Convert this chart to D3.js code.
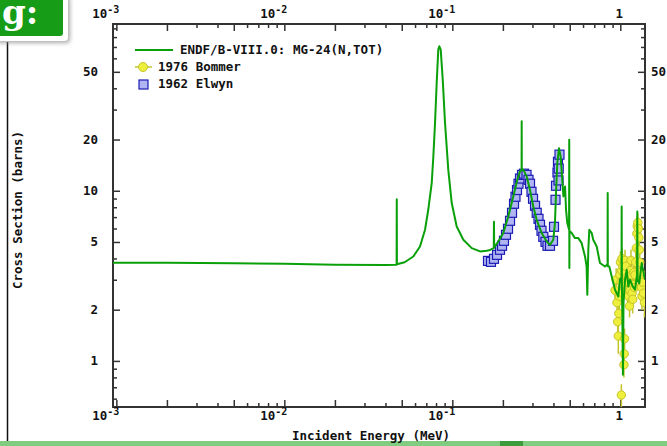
<html>
<meta charset="utf-8" />
<head>
<title>MG-24(N,TOT)</title>
<script src="https://cdn.jsdelivr.net/npm/d3@7/dist/d3.min.js"></script>
<style>
body { margin: 0; background: #fff; }
svg { display: block; }
text { font-family: 'DejaVu Sans Mono', monospace; font-weight: bold; font-size: 12.5px; fill: #111; }
</style>
</head>
<body>
<svg width="667" height="446"></svg>
<script>
// ENDF/B-VIII.0 evaluated curve (MeV, barns)
const endfE = [0.00095, 0.002, 0.005, 0.01, 0.02, 0.04, 0.0466, 0.0467, 0.0468, 0.052,
	0.0586, 0.0642, 0.0688, 0.0719, 0.0754, 0.0771, 0.0789, 0.0807, 0.0825, 0.0837,
	0.0853, 0.0877, 0.0905, 0.0946, 0.0992, 0.1062, 0.1163, 0.1305, 0.1462, 0.1603,
	0.1677, 0.1765, 0.1770, 0.1775, 0.1878, 0.2012, 0.2154, 0.2307, 0.2438, 0.2529,
	0.2585, 0.2588, 0.2592, 0.2647, 0.2773, 0.2901, 0.3034, 0.318, 0.3404, 0.3648,
	0.3815, 0.399, 0.4083, 0.4143, 0.4217, 0.4315, 0.4416, 0.4498, 0.4584, 0.469,
	0.4753, 0.4836, 0.4955, 0.4966, 0.4975, 0.4985, 0.5137, 0.537, 0.5623, 0.5888,
	0.6166, 0.63, 0.6362, 0.645, 0.654, 0.6758, 0.690, 0.7236, 0.7568, 0.811,
	0.840, 0.8414, 0.843, 0.86, 0.889, 0.930, 0.973, 0.995, 1.017, 1.019,
	1.022, 1.028, 1.037, 1.045, 1.067, 1.092, 1.116, 1.142, 1.185, 1.223,
	1.258, 1.262, 1.268, 1.297, 1.341, 1.403];
const endfXS = [3.78, 3.77, 3.75, 3.72, 3.68, 3.66, 3.68, 8.9, 3.7, 3.8,
	4.11, 4.70, 5.90, 7.73, 11.1, 15.9, 25.0, 43.0, 67.5, 70.6,
	67.5, 45.0, 25.0, 13.3, 8.47, 6.17, 5.15, 4.60, 4.40, 4.44,
	4.49, 4.60, 6.57, 4.65, 5.03, 5.64, 7.06, 9.26, 11.6, 13.0,
	13.2, 25.6, 13.3, 13.3, 12.1, 10.1, 8.08, 6.75, 5.64, 5.03,
	4.81, 5.15, 6.46, 9.69, 14.6, 17.8, 15.9, 12.1, 9.26, 10.6,
	7.73, 6.46, 5.9, 19.95, 3.52, 5.8, 5.64, 5.27, 5.27, 4.92,
	4.11, 3.6, 2.45, 4.5, 5.90, 5.64, 5.15, 4.70, 3.76, 3.59,
	3.7, 9.69, 3.6, 3.59, 3.13, 2.62, 2.39, 3.0, 3.1, 8.08,
	2.8, 1.92, 0.83, 2.2, 3.0, 3.43, 2.74, 3.0, 2.74, 2.62,
	3.2, 7.55, 3.0, 2.86, 3.76, 3.0];

// 1976 Bommer
const bommerE = [0.930, 0.945, 0.956, 0.965, 0.973, 0.980, 0.987, 0.995, 1.002, 1.010,
	1.015, 1.019, 1.024, 1.030, 1.037, 1.044, 1.051, 1.055, 1.060, 1.067,
	1.075, 1.082, 1.090, 1.097, 1.105, 1.113, 1.120, 1.128, 1.135, 1.142,
	1.150, 1.158, 1.167, 1.175, 1.185, 1.193, 1.205, 1.215, 1.223, 1.235,
	1.245, 1.255, 1.262, 1.272, 1.281, 1.290, 1.297, 1.305, 1.316, 1.326,
	1.336, 1.345, 1.360, 1.375, 1.392];
const bommerXS = [2.6, 3.0, 2.2, 1.7, 1.4, 1.9, 2.4, 3.2, 3.8, 2.9,
	0.63, 3.4, 4.0, 2.5, 3.6, 3.0, 0.95, 1.1, 1.35, 3.9,
	3.3, 3.6, 2.8, 3.1, 2.6, 3.0, 2.4, 2.9, 2.1, 2.6,
	3.4, 3.9, 3.2, 2.5, 2.3, 2.8, 3.3, 2.7, 3.2, 3.8,
	4.6, 5.6, 6.2, 6.5, 6.0, 5.3, 4.5, 3.8, 3.3, 3.0,
	2.7, 2.4, 2.9, 2.5, 2.2];
const bommerErr = [0.4, 0.5, 0.4, 0.3, 0.3, 0.3, 0.4, 0.5, 0.6, 0.5,
	0.1, 0.5, 0.6, 0.4, 0.5, 0.5, 0.15, 0.2, 0.2, 0.6,
	0.5, 0.5, 0.4, 0.5, 0.4, 0.5, 0.4, 0.4, 0.3, 0.4,
	0.5, 0.6, 0.5, 0.4, 0.4, 0.4, 0.5, 0.4, 0.5, 0.6,
	0.7, 0.8, 0.9, 0.9, 0.9, 0.8, 0.7, 0.6, 0.5, 0.5,
	0.4, 0.4, 0.5, 0.4, 0.4];

// 1962 Elwyn
const elwynE = [0.1631, 0.1699, 0.1770, 0.1846, 0.1923, 0.1977, 0.2030, 0.2087, 0.2146, 0.2206,
	0.2267, 0.2330, 0.2377, 0.2427, 0.2477, 0.2529, 0.2600, 0.2672, 0.2765, 0.2842,
	0.2901, 0.2961, 0.3023, 0.3107, 0.3180, 0.3259, 0.3327, 0.3396, 0.3481, 0.3587,
	0.3687, 0.3815, 0.3976, 0.4031, 0.4115, 0.4143, 0.4227, 0.4256, 0.4290, 0.4300, 0.4345];
const elwynXS = [3.87, 3.82, 3.98, 4.20, 4.50, 4.75, 5.08, 5.51, 5.98, 6.66,
	7.42, 8.39, 9.22, 10.1, 11.0, 11.8, 12.4, 12.6, 12.4, 11.6,
	11.0, 9.86, 8.97, 8.16, 7.42, 6.84, 6.31, 5.82, 5.36, 5.01,
	4.75, 4.75, 5.08, 6.14, 8.85, 10.7, 12.8, 14.8, 11.5, 13.5, 16.3];

// axis ticks and labels
const xLabelVals = [0.001, 0.01, 0.1, 1];
const xLabelBase = ['10', '10', '10', '1'];
const xLabelExp = ['-3', '-2', '-1', ''];
const yLabelVals = [1, 2, 5, 10, 20, 50];
const yLabels = ['1', '2', '5', '10', '20', '50'];

const legendNames = ['ENDF/B-VIII.0: MG-24(N,TOT)', '1976 Bommer', '1962 Elwyn'];

const svg = d3.select('svg');
const L = 113, R = 645, T = 24, B = 407;

const x = d3.scaleLog().domain([0.000955, 1.403]).range([L, R]);
const y = d3.scaleLog().domain([0.536, 95.5]).range([B, T]);

// --- page decorations (badge, side rule, bottom band)
const defs = svg.append('defs');
defs.append('filter').attr('id', 'shadow').attr('x', '-20%').attr('y', '-20%').attr('width', '150%').attr('height', '150%')
	.append('feDropShadow').attr('dx', 2).attr('dy', 2).attr('stdDeviation', 2).attr('flood-color', '#888').attr('flood-opacity', 0.7);
defs.append('clipPath').attr('id', 'plot').append('rect')
	.attr('x', L).attr('y', T).attr('width', R - L).attr('height', B - T);

svg.append('line').attr('x1', 7.5).attr('x2', 7.5).attr('y1', 42).attr('y2', 442)
	.style('stroke', '#111').style('stroke-width', 1.5);
svg.append('rect').attr('x', 0).attr('y', 441).attr('width', 667).attr('height', 5).style('fill', '#80cc80');
svg.append('rect').attr('x', 500).attr('y', 441).attr('width', 23).attr('height', 5).style('fill', '#3c9c3c');

svg.append('rect').attr('x', -6).attr('y', -6).attr('width', 74).attr('height', 47).attr('rx', 4)
	.style('fill', '#fff').attr('filter', 'url(#shadow)');
svg.append('rect').attr('x', -6).attr('y', -6).attr('width', 69).attr('height', 42).attr('rx', 3).style('fill', '#169c16');
svg.append('text').attr('x', 2).attr('y', 24)
	.style('font-family', "'DejaVu Serif', serif").style('font-size', '34px').style('fill', '#fff')
	.text('g:');

// --- ticks
function tickSet(lo, hi, pick) {
	const out = [];
	for (let p = Math.floor(Math.log10(lo)); p <= Math.ceil(Math.log10(hi)); p++) {
		for (let k = 1; k <= 9; k++) {
			const v = k * Math.pow(10, p);
			if (v >= lo && v <= hi && pick(k)) out.push(+v.toPrecision(3));
		}
	}
	return out;
}
const isMajor = (k) => k === 1 || k === 2 || k === 5;
const xMajor = tickSet(0.001, 1.403, isMajor), xMinor = tickSet(0.001, 1.403, (k) => !isMajor(k));
const yMajor = tickSet(0.536, 95.5, isMajor), yMinor = tickSet(0.536, 95.5, (k) => !isMajor(k));

function addAxis(axis, vals, size, tx, ty) {
	svg.append('g').attr('transform', 'translate(' + tx + ',' + ty + ')')
		.call(axis.tickValues(vals).tickSize(-size).tickFormat(''))
		.call((g) => g.select('.domain').remove())
		.call((g) => g.selectAll('line').style('stroke', '#333').style('stroke-width', 1.5));
}
addAxis(d3.axisBottom(x), xMajor, 7, 0, B);
addAxis(d3.axisBottom(x), xMinor, 4, 0, B);
addAxis(d3.axisTop(x), xMajor, 7, 0, T);
addAxis(d3.axisTop(x), xMinor, 4, 0, T);
addAxis(d3.axisLeft(y), yMajor, 7, L, 0);
addAxis(d3.axisLeft(y), yMinor, 4, L, 0);
addAxis(d3.axisRight(y), yMajor, 7, R, 0);
addAxis(d3.axisRight(y), yMinor, 4, R, 0);

svg.append('rect').attr('x', L).attr('y', T).attr('width', R - L).attr('height', B - T)
	.style('fill', 'none').style('stroke', '#333').style('stroke-width', 2);

// x labels, top and bottom
[18, 420].forEach((base) => {
	xLabelVals.forEach((v, i) => {
		const t = svg.append('text').attr('y', base);
		if (xLabelExp[i]) {
			t.attr('x', x(v) + 3).attr('text-anchor', 'end');
			t.append('tspan').text(xLabelBase[i]);
			t.append('tspan').attr('dy', -5).style('font-size', '10px').text(xLabelExp[i]);
		} else {
			t.attr('x', x(v) - 1).attr('text-anchor', 'middle').text(xLabelBase[i]);
		}
	});
});

// y labels, left and right
yLabelVals.forEach((v, i) => {
	svg.append('text').attr('x', 98).attr('y', y(v) + 4.5).attr('text-anchor', 'end').text(yLabels[i]);
	svg.append('text').attr('x', 651).attr('y', y(v) + 4.5).text(yLabels[i]);
});

svg.append('text').attr('x', 292).attr('y', 440).text('Incident Energy (MeV)');
svg.append('text').attr('transform', 'translate(22,210) rotate(-90)').attr('text-anchor', 'middle')
	.text('Cross Section (barns)');

// --- data
const plot = svg.append('g').attr('clip-path', 'url(#plot)');

const elwyn = elwynE.map((e, i) => ({ e: e, v: elwynXS[i] }));
plot.selectAll('rect.elwyn').data(elwyn).enter()
	.append('rect').attr('class', 'elwyn')
	.attr('x', (d) => x(d.e) - 4.5).attr('y', (d) => y(d.v) - 4.5)
	.attr('width', 9).attr('height', 9)
	.style('fill', '#b0b4f2').style('stroke', '#1c1cb4').style('stroke-width', 1.2);

const bommer = bommerE.map((e, i) => ({ e: e, v: bommerXS[i], err: bommerErr[i] }));
plot.selectAll('line.err').data(bommer).enter()
	.append('line').attr('class', 'err')
	.attr('x1', (d) => x(d.e)).attr('x2', (d) => x(d.e))
	.attr('y1', (d) => y(d.v + d.err)).attr('y2', (d) => y(Math.max(d.v - d.err, 0.3)))
	.style('stroke', '#c4c42a').style('stroke-width', 1.5);
plot.selectAll('circle.bommer').data(bommer).enter()
	.append('circle').attr('class', 'bommer')
	.attr('cx', (d) => x(d.e)).attr('cy', (d) => y(d.v)).attr('r', 4.2)
	.style('fill', '#eeee3c').style('stroke', '#c4c42a').style('stroke-width', 1);

const endf = endfE.map((e, i) => ({ e: e, v: endfXS[i] }));
plot.append('path').datum(endf)
	.attr('d', d3.line().x((d) => x(d.e)).y((d) => y(d.v)))
	.style('fill', 'none').style('stroke', '#0aa00a').style('stroke-width', 2).style('stroke-linejoin', 'round');

// --- legend
const lg = svg.append('g');
lg.append('line').attr('x1', 135).attr('x2', 173).attr('y1', 50).attr('y2', 50)
	.style('stroke', '#0aa00a').style('stroke-width', 2);
lg.append('text').attr('x', 180).attr('y', 54).text(legendNames[0]);
lg.append('line').attr('x1', 135).attr('x2', 152).attr('y1', 67).attr('y2', 67)
	.style('stroke', '#c4c42a').style('stroke-width', 1.5);
lg.append('circle').attr('cx', 143).attr('cy', 67).attr('r', 4.5)
	.style('fill', '#eeee3c').style('stroke', '#c4c42a');
lg.append('text').attr('x', 158).attr('y', 71).text(legendNames[1]);
lg.append('rect').attr('x', 139).attr('y', 80).attr('width', 9).attr('height', 9)
	.style('fill', '#b0b4f2').style('stroke', '#1c1cb4').style('stroke-width', 1.2);
lg.append('text').attr('x', 158).attr('y', 88).text(legendNames[2]);
</script>
</body>
</html>
